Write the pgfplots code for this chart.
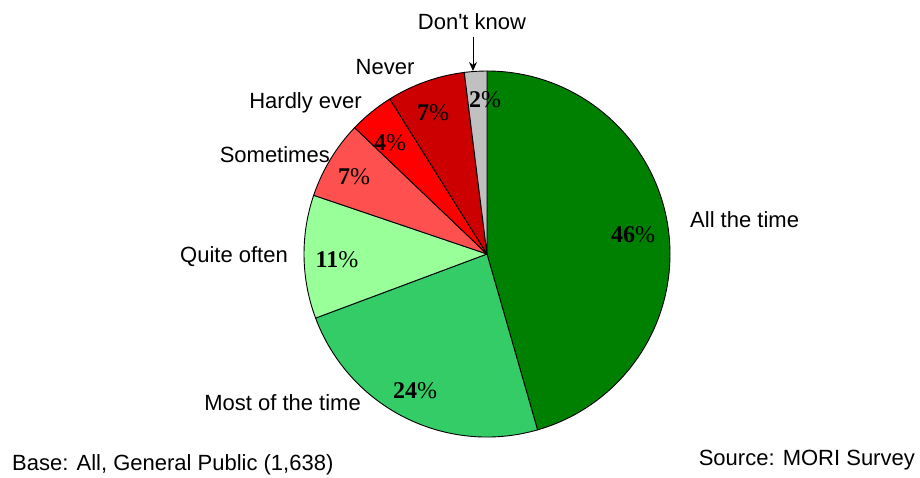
\documentclass[border=0pt]{standalone}
\usepackage{pgfplots}
\pgfplotsset{compat=1.18}
\usepackage{pgfplotstable}
\usetikzlibrary{arrows.meta}
\usepackage{fontspec}
\setmainfont{Liberation Sans}
\newfontfamily\pctfont{Liberation Serif}
\definecolor{cAll}{HTML}{008000}
\definecolor{cMost}{HTML}{33CC66}
\definecolor{cQuite}{HTML}{99FF99}
\definecolor{cSome}{HTML}{FF5050}
\definecolor{cHard}{HTML}{FF0000}
\definecolor{cNever}{HTML}{CC0000}
\definecolor{cDK}{HTML}{C0C0C0}
% share (%), colour, label position (x, y in px from bottom-left)
\pgfplotstableread{
value col lx ly
46 cAll 633 242
24 cMost 415 86
11 cQuite 337 217
7 cSome 354 300
4 cHard 390 334
7 cNever 433 364
2 cDK 485 377
}\piedata
\def\cumangle{90}
\begin{document}
\begin{tikzpicture}
\begin{axis}[
  scale only axis, width=920pt, height=477pt,
  xmin=0, xmax=920, ymin=0, ymax=477,
  hide axis, clip=false,
]
\path (axis cs:0,0) rectangle (axis cs:920,477);
\pgfplotsforeachungrouped \i in {0,...,6}{%
  \pgfplotstablegetelem{\i}{value}\of\piedata \let\v\pgfplotsretval
  \pgfplotstablegetelem{\i}{col}\of\piedata \let\c\pgfplotsretval
  \pgfplotstablegetelem{\i}{lx}\of\piedata \let\lx\pgfplotsretval
  \pgfplotstablegetelem{\i}{ly}\of\piedata \let\ly\pgfplotsretval
  \pgfmathsetmacro\endangle{\cumangle - 3.564356*\v}%
  \edef\temp{\noexpand\filldraw[fill=\c, draw=black, line width=0.9pt, line join=round]
    (axis cs:487,223) -- ++(\cumangle:183pt) arc[start angle=\cumangle, end angle=\endangle, radius=183pt] -- cycle;
    \noexpand\node[inner sep=0pt, font=\noexpand\fontsize{24}{28}\noexpand\selectfont\noexpand\pctfont] at (axis cs:\lx,\ly) {\noexpand\textbf{\v}\noexpand\%};}%
  \temp
  \global\let\cumangle\endangle
}
\draw[-{Stealth[length=9pt,width=8pt]}, line width=1pt] (axis cs:473,440) -- (axis cs:473,406);
\begin{scope}[every node/.style={font=\fontsize{22}{26}\selectfont, inner sep=0pt}]
\node at (axis cs:472,455) {Don\textquotesingle t know};
\node at (axis cs:385,410) {Never};
\node[anchor=east] at (axis cs:362,374) {Hardly ever};
\node[anchor=east] at (axis cs:330,322) {Sometimes};
\node[anchor=east] at (axis cs:288,220) {Quite often};
\node[anchor=east] at (axis cs:361,74) {Most of the time};
\node[anchor=west] at (axis cs:690,257) {All the time};
\node[anchor=west] at (axis cs:12,12) {Base: All, General Public (1,638)};
\node[anchor=east] at (axis cs:915,17) {Source: MORI Survey};
\end{scope}
\end{axis}
\end{tikzpicture}
\end{document}
